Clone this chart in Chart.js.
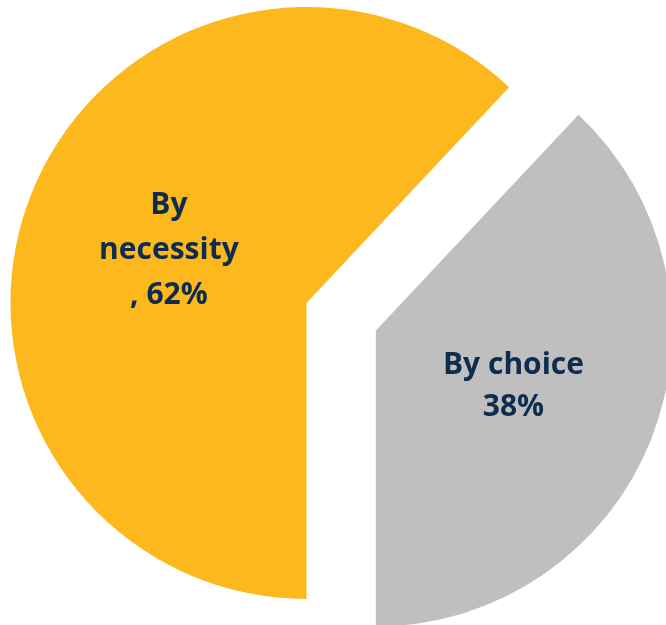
<!DOCTYPE html>
<html>
<head>
<meta charset="utf-8">
<title>By necessity / By choice</title>
<script src="https://cdn.jsdelivr.net/npm/chart.js@4/dist/chart.umd.min.js"></script>
<style>
  html, body { margin: 0; padding: 0; background: #fff; overflow: hidden; }
  #wrap { width: 666px; height: 625px; }
</style>
</head>
<body>
<div id="wrap"><canvas id="myChart" width="666" height="625"></canvas></div>
<script>
// dados
const categories = ['By necessity', 'By choice'];
const shares = [62, 38];
const labelLines = [
    ['By', 'necessity', ', 62%'],
    ['By choice', '38%']
];

// distancia de destaque de cada fatia (px)
const explode = [0, 74.6];

function midAngle(arc) {
    return (arc.startAngle + arc.endAngle) / 2;
}

// desenha as fatias deslocadas, sem encolher o raio
const explodedSlices = {
    id: 'explodedSlices',
    beforeDatasetDraw(chart, args) {
        const ctx = chart.ctx;
        args.meta.data.forEach((arc, i) => {
            const a = midAngle(arc);
            ctx.save();
            ctx.translate(Math.cos(a) * explode[i], Math.sin(a) * explode[i]);
            arc.draw(ctx);
            ctx.restore();
        });
        return false;
    }
};

// rotulos dentro das fatias
const sliceLabels = {
    id: 'sliceLabels',
    afterDatasetsDraw(chart) {
        const ctx = chart.ctx;
        const meta = chart.getDatasetMeta(0);
        ctx.save();
        ctx.font = 'bold 30px "Open Sans"';
        ctx.fillStyle = '#0E2D4E';
        ctx.textAlign = 'center';
        ctx.textBaseline = 'alphabetic';
        meta.data.forEach((arc, i) => {
            const a = midAngle(arc);
            const r = explode[i] + arc.outerRadius / 2;
            const cx = arc.x + Math.cos(a) * r;
            const cy = arc.y + Math.sin(a) * r;
            const lines = labelLines[i];
            const lh = i === 0 ? 45 : 42;
            lines.forEach((t, j) => {
                ctx.fillText(t, cx, cy + (j - (lines.length - 1) / 2) * lh + 10.5);
            });
        });
        ctx.restore();
    }
};

const data = {
    labels: categories,
    datasets: [{
        data: shares,
        backgroundColor: ['#FDB81E', '#BFBFBF'],
        borderWidth: 0,
        radius: 296
    }]
};

const config = {
    type: 'pie',
    data,
    options: {
        responsive: false,
        animation: false,
        rotation: 180,
        layout: { padding: { left: 0, right: 53, top: 0, bottom: 19 } },
        plugins: {
            legend: { display: false },
            tooltip: { enabled: false }
        }
    },
    plugins: [explodedSlices, sliceLabels]
};

var myChart = new Chart(document.getElementById('myChart'), config);
</script>
</body>
</html>
